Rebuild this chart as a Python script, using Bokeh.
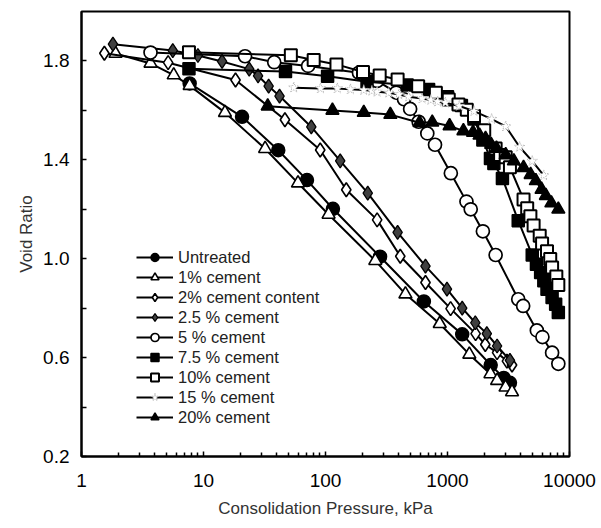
from bokeh.plotting import figure
from bokeh.models import FixedTicker, PrintfTickFormatter, Range1d, Legend, LegendItem
from bokeh.embed import file_html
from bokeh.resources import INLINE

# ---------------- data ----------------
untreated_x = [7.7, 20.7, 41.0, 70.5, 115, 280, 640, 1320, 2260, 2890, 3250]
untreated_y = [1.709, 1.574, 1.439, 1.318, 1.202, 1.008, 0.827, 0.694, 0.570, 0.518, 0.498]

c1_x = [1.9, 3.68, 5.7, 7.7, 15.0, 32, 59.5, 106, 256, 452, 864, 1510, 2250, 2550, 2990, 3380]
c1_y = [1.830, 1.790, 1.743, 1.700, 1.591, 1.445, 1.306, 1.179, 0.992, 0.857, 0.737, 0.613, 0.534, 0.507, 0.480, 0.461]

c2_x = [1.54, 5.13, 18.3, 46.5, 90.5, 148, 265, 410, 660, 1060, 1700, 2040, 2550, 3070, 3380]
c2_y = [1.831, 1.793, 1.723, 1.562, 1.440, 1.279, 1.157, 1.010, 0.904, 0.798, 0.697, 0.653, 0.620, 0.586, 0.570]

c25_x = [1.81, 5.6, 9.0, 14.2, 23.7, 28.0, 34.2, 42.0, 76.5, 132, 222, 390, 660, 990, 1320, 1690, 2100, 2550, 3250]
c25_y = [1.868, 1.842, 1.822, 1.798, 1.767, 1.740, 1.698, 1.658, 1.533, 1.396, 1.265, 1.107, 0.970, 0.877, 0.800, 0.741, 0.697, 0.647, 0.589]

c5_x = [3.68, 21.9, 38, 72, 188, 265, 380, 440, 494, 580, 683, 790, 1065, 1430, 1550, 1950, 2480, 3800, 4170, 5400, 6000, 7200, 8100]
c5_y = [1.834, 1.819, 1.795, 1.780, 1.752, 1.719, 1.672, 1.645, 1.606, 1.554, 1.507, 1.461, 1.346, 1.231, 1.200, 1.111, 1.015, 0.836, 0.809, 0.710, 0.683, 0.620, 0.575]

c75_x = [7.6, 47, 104, 219, 467, 700, 1000, 1300, 1650, 1950, 2250, 2400, 2820, 3800, 4950, 5360, 5800, 6160, 6540, 7200, 7700, 8100]
c75_y = [1.768, 1.757, 1.738, 1.716, 1.703, 1.685, 1.655, 1.620, 1.565, 1.480, 1.405, 1.385, 1.325, 1.154, 1.015, 0.978, 0.944, 0.911, 0.877, 0.843, 0.816, 0.782]

c10_x = [7.6, 52, 80, 123, 203, 278, 390, 575, 803, 1024, 1230, 1440, 1650, 2000, 2480, 2700, 3000, 3250, 4200, 4500, 4780, 5080, 5700, 5960, 6540, 6950, 7200, 7800, 8100]
c10_y = [1.835, 1.823, 1.804, 1.786, 1.755, 1.741, 1.725, 1.698, 1.671, 1.644, 1.624, 1.603, 1.577, 1.520, 1.446, 1.420, 1.410, 1.370, 1.240, 1.204, 1.172, 1.134, 1.093, 1.062, 1.030, 0.999, 0.965, 0.928, 0.894]

c15_x = [55, 91, 125, 160, 206, 240, 265, 330, 400, 480, 620, 730, 830, 960, 1250, 1650, 2300, 3000, 3900, 4950, 6150]
c15_y = [1.692, 1.689, 1.689, 1.685, 1.682, 1.679, 1.675, 1.671, 1.664, 1.655, 1.648, 1.642, 1.635, 1.631, 1.618, 1.597, 1.565, 1.535, 1.452, 1.395, 1.337]

c20_x = [33.6, 114, 206, 340, 590, 750, 1040, 1350, 1620, 1830, 2050, 2280, 2520, 3000, 3500, 4200, 4800, 5300, 5900, 6400, 7100, 8100]
c20_y = [1.617, 1.600, 1.591, 1.583, 1.550, 1.552, 1.537, 1.517, 1.511, 1.499, 1.486, 1.462, 1.446, 1.420, 1.395, 1.368, 1.340, 1.315, 1.280, 1.255, 1.225, 1.200]

labels = ["Untreated", "1% cement", "2% cement content", "2.5 % cement", "5 % cement",
          "7.5 % cement", "10% cement", "15 % cement", "20% cement"]

x_ticks = [1, 10, 100, 1000, 10000]
y_ticks = [0.2, 0.6, 1.0, 1.4, 1.8]
y_minor = [0.4, 0.8, 1.2, 1.6]

FONT = "Liberation Sans"

p = figure(width=600, height=526, x_axis_type="log", output_backend="svg",
           toolbar_location=None, x_range=Range1d(1, 10000), y_range=Range1d(0.2, 2.0),
           min_border_left=81, min_border_right=31, min_border_top=11, min_border_bottom=70)
p.grid.visible = False
p.outline_line_color = "black"
p.outline_line_width = 2
p.background_fill_color = "white"
p.border_fill_color = "white"

series = [
    (untreated_x, untreated_y, "circle", "black", 13, 1.5),
    (c1_x, c1_y, "triangle", "white", 13, 1.6),
    (c2_x, c2_y, "diamond", "white", 14, 1.6),
    (c25_x, c25_y, "diamond", "#404040", 14, 1.3),
    (c5_x, c5_y, "circle", "white", 13, 1.7),
    (c75_x, c75_y, "square", "black", 12, 1.5),
    (c10_x, c10_y, "square", "white", 12, 2.0),
    (c15_x, c15_y, "star", "white", 11, 1.0),
    (c20_x, c20_y, "triangle", "black", 13, 1.5),
]

items = []
for (xs, ys, mk, fill, sz, lw), lab in zip(series, labels):
    ln = p.line(xs, ys, line_color="black", line_width=2)
    if mk == "star":
        sc = p.scatter(xs, ys, marker=mk, size=sz, fill_color=fill, line_color="#b0b0b0",
                       line_width=lw, line_dash="1 1")
    else:
        sc = p.scatter(xs, ys, marker=mk, size=sz, fill_color=fill, line_color="black", line_width=lw)
    items.append(LegendItem(label=lab, renderers=[ln, sc]))

legend = Legend(items=items, location=(55, 29), padding=0, margin=0, spacing=0,
                glyph_width=37, glyph_height=20, label_height=20, label_standoff=5,
                label_text_font=FONT, label_text_font_size="16.5px", label_text_color="#222222",
                border_line_color=None, background_fill_alpha=0)
p.add_layout(legend)

# axes
xa = p.xaxis[0]
xa.ticker = FixedTicker(ticks=x_ticks,
                        minor_ticks=[m * d for d in [1, 10, 100, 1000] for m in range(2, 10)])
xa.formatter = PrintfTickFormatter(format="%d")
ya = p.yaxis[0]
ya.ticker = FixedTicker(ticks=y_ticks, minor_ticks=y_minor)
ya.formatter = PrintfTickFormatter(format="%.1f")

for ax in (xa, ya):
    ax.axis_line_width = 2
    ax.axis_line_color = "black"
    ax.major_tick_in = 5
    ax.major_tick_out = 0
    ax.major_tick_line_width = 1.5
    ax.minor_tick_line_width = 1.5
    ax.major_label_text_font = FONT
    ax.major_label_text_font_size = "19px"
    ax.major_label_text_color = "black"
    ax.axis_label_text_font = FONT
    ax.axis_label_text_font_size = "17px"
    ax.axis_label_text_font_style = "normal"
    ax.axis_label_text_color = "#333333"
xa.minor_tick_in = 4
xa.minor_tick_out = 0
ya.minor_tick_in = 5
ya.minor_tick_out = 0
xa.major_label_standoff = 17
ya.major_label_standoff = 12
xa.axis_label = "Consolidation Pressure, kPa"
ya.axis_label = "Void Ratio"
xa.axis_label_standoff = 9
ya.axis_label_standoff = 4

open("out.html", "w").write(file_html(p, INLINE))
